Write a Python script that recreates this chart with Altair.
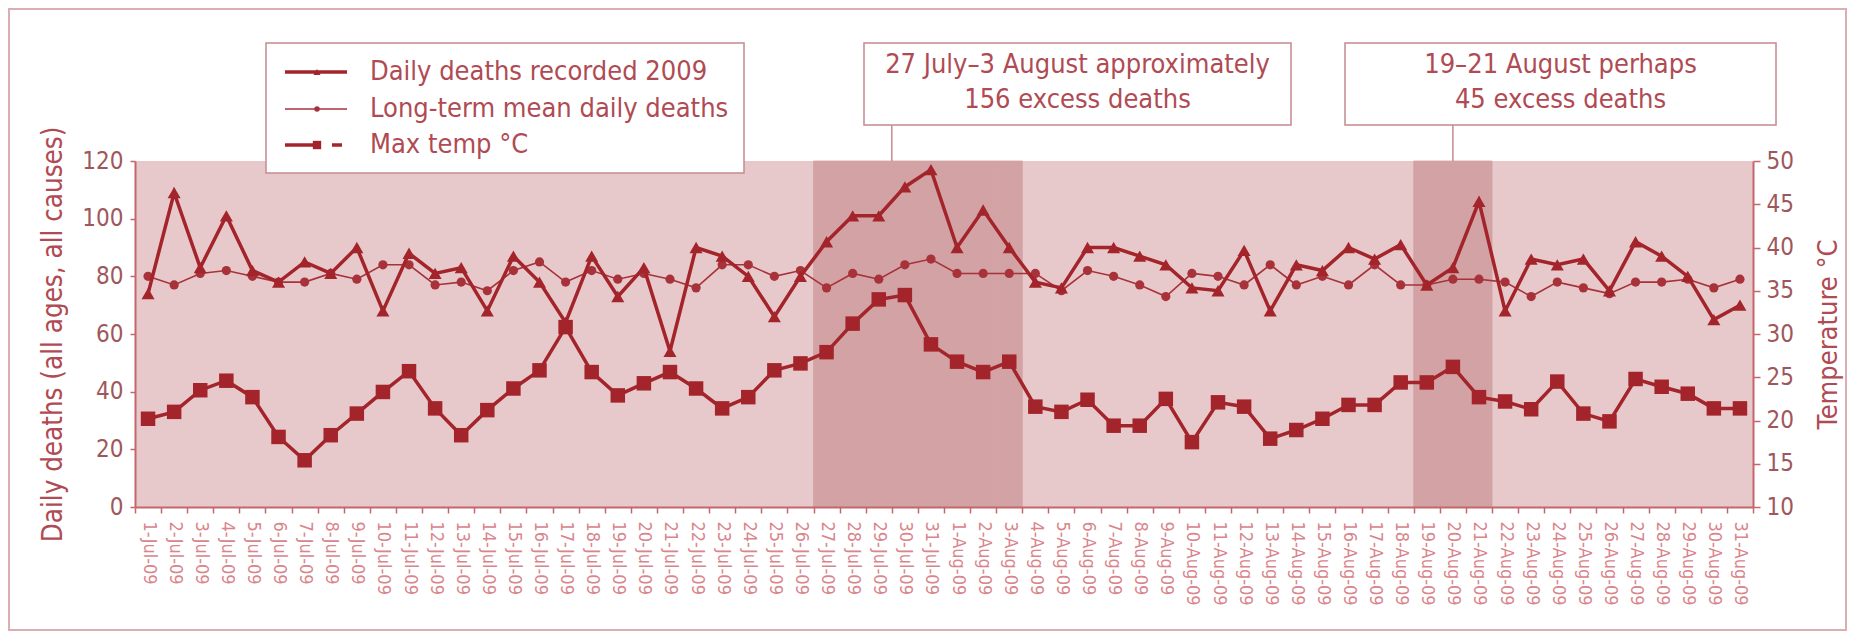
import altair as alt
import pandas as pd

# ---------------- data ----------------
jul = [f"{d}-Jul-09" for d in range(1, 32)]
aug = [f"{d}-Aug-09" for d in range(1, 32)]
dates = jul + aug

deaths_2009 = [74, 109, 83, 101, 82, 78, 85, 81, 90, 68,
               88, 81, 83, 68, 87, 78, 64, 87, 73, 83,
               54, 90, 87, 80, 66, 80, 92, 101, 101, 111, 117,
               90, 103, 90, 78, 76, 90, 90, 87, 84, 76,
               75, 89, 68, 84, 82, 90, 86, 91, 77, 83,
               106, 68, 86, 84, 86, 75, 92, 87, 80, 65, 70]

mean_deaths = [80, 77, 81, 82, 80, 78, 78, 81, 79, 84,
               84, 77, 78, 75, 82, 85, 78, 82, 79, 81,
               79, 76, 84, 84, 80, 82, 76, 81, 79, 84, 86,
               81, 81, 81, 81, 75, 82, 80, 77, 73, 81,
               80, 77, 84, 77, 80, 77, 84, 77, 77, 79,
               79, 78, 73, 78, 76, 74, 78, 78, 79, 76, 79]

max_temp = [20.2, 21.0, 23.5, 24.6, 22.7, 18.1, 15.4, 18.3, 20.8, 23.3,
            25.7, 21.4, 18.3, 21.2, 23.7, 25.8, 30.8, 25.6, 22.9, 24.3,
            25.6, 23.7, 21.4, 22.7, 25.8, 26.6, 27.9, 31.2, 34.0, 34.5, 28.8,
            26.8, 25.6, 26.8, 21.6, 21.0, 22.4, 19.4, 19.4, 22.5, 17.5,
            22.1, 21.6, 17.9, 18.9, 20.2, 21.8, 21.8, 24.4, 24.4, 26.2,
            22.7, 22.2, 21.3, 24.5, 20.8, 19.9, 24.8, 23.9, 23.1, 21.4, 21.4]

death_ticks = [0, 20, 40, 60, 80, 100, 120]
temp_ticks = [10, 15, 20, 25, 30, 35, 40, 45, 50]

legend_labels = ["Daily deaths recorded 2009",
                 "Long-term mean daily deaths",
                 "Max temp °C"]
excess_periods = [("27-Jul-09", "3-Aug-09"), ("19-Aug-09", "21-Aug-09")]
ann_lines = [["27 July\u20133 August approximately", "156 excess deaths"],
             ["19\u201321 August perhaps", "45 excess deaths"]]
ann_anchor = ["30-Jul-09", "20-Aug-09"]
ann_band = [0.0, 0.5]

# ---------------- style ----------------
FONT = "Liberation Sans Narrow, DejaVu Sans Condensed, Arial Narrow, Liberation Sans, sans-serif"
DARK = "#a3242a"
MEAN = "#a8323a"
PLOTBG = "#e7c9cb"
SHADE = "#d3a2a5"
AX = "#c4676d"
YLAB = "#9e585d"
XLAB = "#d9858c"
TXT = "#b04a53"
BOX = "#c58b8f"
FRAME = "#dcaeb1"
TXT_SIZE = 27

W, H = 1618, 346

df = pd.DataFrame({"date": dates, "deaths": deaths_2009,
                   "mean": mean_deaths, "temp": max_temp})
base = alt.Chart(df)

xscale = alt.Scale(type="band", domain=dates, paddingInner=0, paddingOuter=0)
xaxis = alt.Axis(title=None, labelAngle=90, labelFontSize=18, labelColor=XLAB,
                 labelFont=FONT, labelPadding=8, tickBand="extent", tickSize=6,
                 tickColor=AX, tickWidth=1.5, domainColor=AX, domainWidth=2,
                 labelOverlap=False, grid=False)
X = alt.X("date:N", scale=xscale, axis=xaxis)

left_axis = alt.Axis(values=death_ticks, title="Daily deaths (all ages, all causes)",
                     titleFont=FONT, titleFontSize=27.5, titleFontWeight="normal",
                     titleColor=TXT, titlePadding=14, labelFont=FONT,
                     labelFontSize=24, labelColor=YLAB, labelPadding=7,
                     tickSize=5, tickColor=AX, tickWidth=1.5, domainColor=AX,
                     domainWidth=2, grid=False)
right_axis = alt.Axis(orient="right", values=temp_ticks, title="Temperature °C",
                      titleFont=FONT, titleFontSize=27, titleFontWeight="normal",
                      titleColor=TXT, titlePadding=22, titleAngle=270,
                      titleBaseline="top",
                      labelFont=FONT, labelFontSize=24, labelColor=YLAB,
                      labelPadding=6, tickSize=7, tickColor=AX, tickWidth=1.5,
                      domainColor=AX, domainWidth=2, grid=False)

dscale = alt.Scale(domain=[0, 120], nice=False)
tscale = alt.Scale(domain=[10, 50], nice=False)

# shaded excess periods
shade_rows = []
for s, e in excess_periods:
    i0, i1 = dates.index(s), dates.index(e)
    shade_rows += dates[i0:i1 + 1]
shade = alt.Chart(pd.DataFrame({"date": shade_rows})).mark_rect(
    color=SHADE, stroke=SHADE, strokeWidth=0.8
).encode(x=X, y=alt.value(0), y2=alt.value(H))

yd = alt.Y("deaths:Q", scale=dscale, axis=left_axis)
ym = alt.Y("mean:Q", scale=dscale, axis=left_axis)
yt = alt.Y("temp:Q", scale=tscale, axis=right_axis)

mean_line = base.mark_line(color=MEAN, strokeWidth=1.6).encode(x=X, y=ym)
mean_pts = base.mark_point(shape="circle", filled=True, size=85, color=MEAN,
                           opacity=1).encode(x=X, y=ym)
deaths_line = base.mark_line(color=DARK, strokeWidth=3.5,
                             strokeJoin="miter").encode(x=X, y=yd)
deaths_pts = base.mark_point(shape="triangle-up", filled=True, size=170,
                             color=DARK, opacity=1).encode(x=X, y=yd)

temp_line = base.mark_line(color=DARK, strokeWidth=3.5,
                           strokeJoin="miter").encode(x=X, y=yt)
temp_pts = base.mark_point(shape="square", filled=True, size=210, color=DARK,
                           opacity=1).encode(x=X, y=yt)

left = alt.layer(shade, mean_line, mean_pts, deaths_line, deaths_pts)
right = alt.layer(temp_line, temp_pts)

# ---------------- overlays: legend, annotations, frame ----------------
one = pd.DataFrame({"k": [0]})
overlays = []

# outer frame
overlays.append(alt.Chart(one).mark_rect(fillOpacity=0, stroke=FRAME, strokeWidth=2).encode(
    x=alt.value(-126), x2=alt.value(1711), y=alt.value(-152), y2=alt.value(469)))

# legend box
overlays.append(alt.Chart(one).mark_rect(fill="white", stroke=BOX, strokeWidth=1.5).encode(
    x=alt.value(131), x2=alt.value(609), y=alt.value(-118), y2=alt.value(12)))

row_y = [-89, -52, -16]
for i, label in enumerate(legend_labels):
    y = row_y[i]
    if i == 0:
        overlays.append(alt.Chart(one).mark_rule(color=DARK, strokeWidth=3.5).encode(
            x=alt.value(150), x2=alt.value(212), y=alt.value(y)))
        overlays.append(alt.Chart(one).mark_point(shape="triangle-up", filled=True, size=50,
                                                  color=DARK, opacity=1).encode(
            x=alt.value(182), y=alt.value(y)))
    elif i == 1:
        overlays.append(alt.Chart(one).mark_rule(color=MEAN, strokeWidth=1.6).encode(
            x=alt.value(150), x2=alt.value(212), y=alt.value(y)))
        overlays.append(alt.Chart(one).mark_point(shape="circle", filled=True, size=30,
                                                  color=MEAN, opacity=1).encode(
            x=alt.value(182), y=alt.value(y)))
    else:
        overlays.append(alt.Chart(one).mark_rule(color=DARK, strokeWidth=3.5).encode(
            x=alt.value(150), x2=alt.value(180), y=alt.value(y)))
        overlays.append(alt.Chart(one).mark_point(shape="square", filled=True, size=70,
                                                  color=DARK, opacity=1).encode(
            x=alt.value(182), y=alt.value(y)))
        overlays.append(alt.Chart(one).mark_rule(color=DARK, strokeWidth=3.5).encode(
            x=alt.value(197), x2=alt.value(207), y=alt.value(y)))
    overlays.append(alt.Chart(pd.DataFrame({"label": [label]})).mark_text(
        align="left", baseline="middle", font=FONT, fontSize=TXT_SIZE, color=TXT).encode(
        x=alt.value(235), y=alt.value(y), text="label:N"))

# annotation boxes
box_x = [(729, 1156), (1210, 1641)]
for j, lines in enumerate(ann_lines):
    x0, x1 = box_x[j]
    overlays.append(alt.Chart(pd.DataFrame({"date": [ann_anchor[j]]})).mark_rule(
        color=BOX, strokeWidth=1.5).encode(
        x=alt.X("date:N", scale=xscale, axis=xaxis, bandPosition=ann_band[j]),
        y=alt.value(-36), y2=alt.value(0)))
    overlays.append(alt.Chart(one).mark_rect(fill="white", stroke=BOX, strokeWidth=1.5).encode(
        x=alt.value(x0), x2=alt.value(x1), y=alt.value(-118), y2=alt.value(-36)))
    for k, line in enumerate(lines):
        overlays.append(alt.Chart(pd.DataFrame({"label": [line]})).mark_text(
            align="center", baseline="middle", font=FONT, fontSize=TXT_SIZE, color=TXT).encode(
            x=alt.value((x0 + x1) / 2), y=alt.value(-96 + 35 * k), text="label:N"))

chart = alt.layer(left, right, *overlays).resolve_scale(y="independent").properties(
    width=W, height=H,
    padding={"left": 127, "top": 153, "right": 95, "bottom": 125},
    autosize=alt.AutoSizeParams(type="none"),
    background="white",
).configure_view(fill=PLOTBG, strokeWidth=0)

chart.save("out.html", embed_options={"renderer": "svg", "actions": False})
